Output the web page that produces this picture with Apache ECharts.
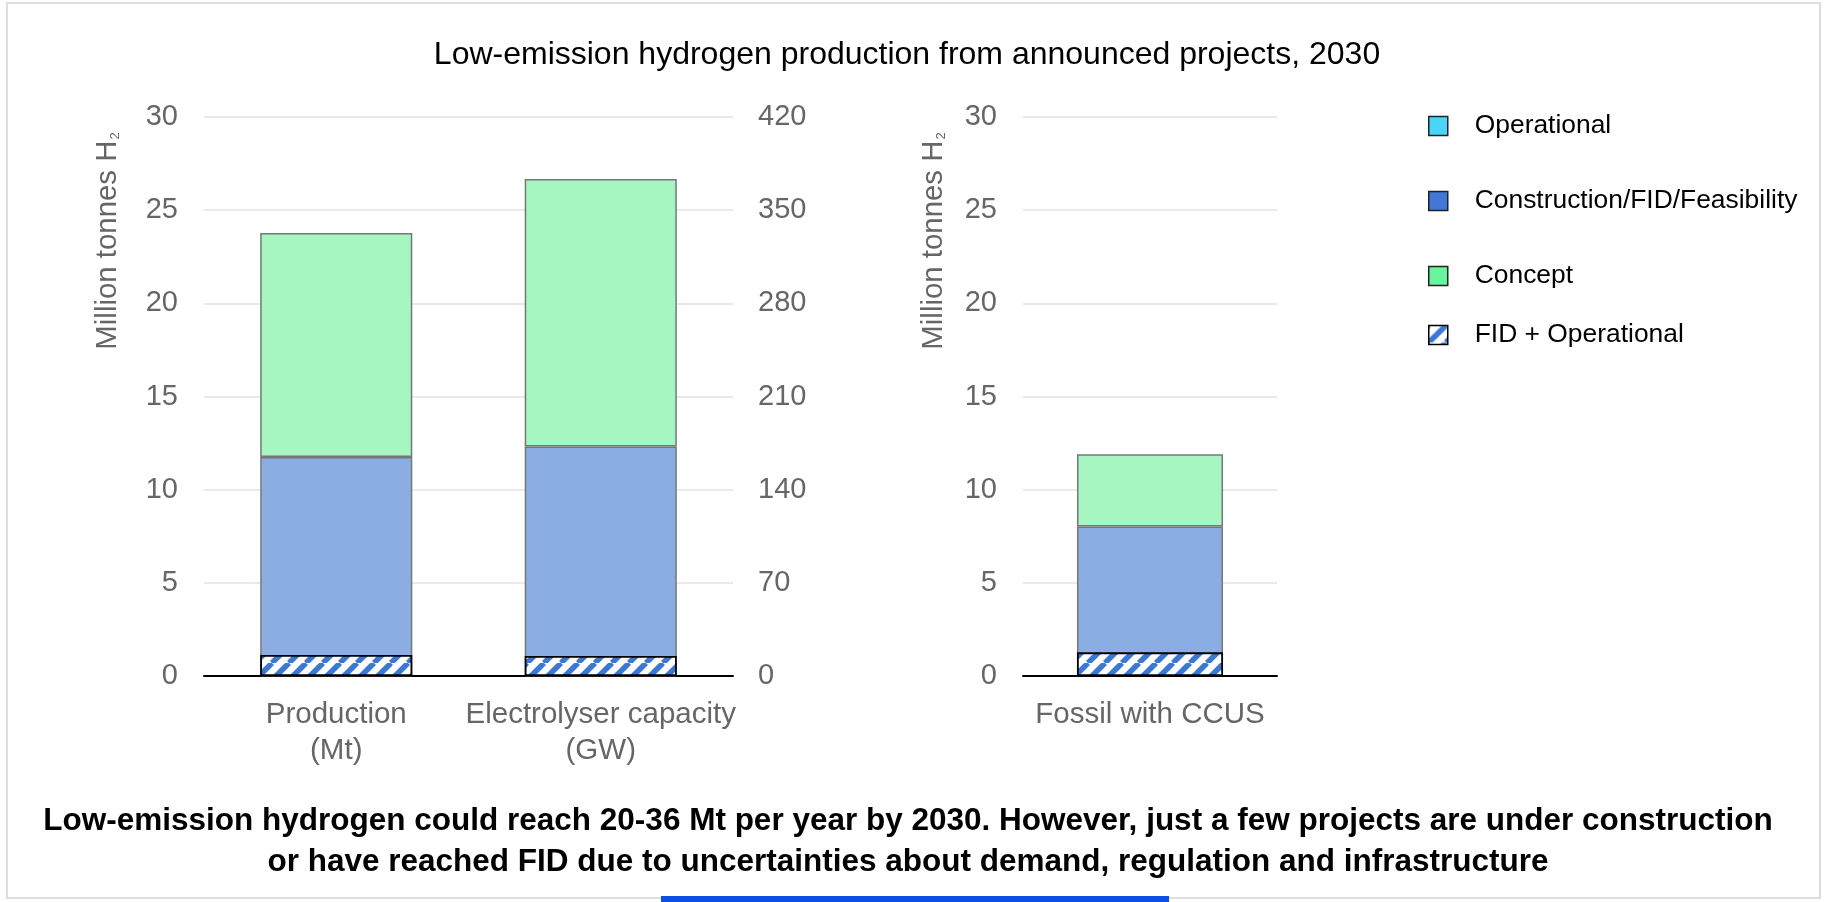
<!DOCTYPE html>
<html>
<head>
<meta charset="utf-8">
<title>Low-emission hydrogen production from announced projects, 2030</title>
<script src="https://cdn.jsdelivr.net/npm/echarts@6/dist/echarts.min.js"></script>
<style>
  html, body { margin: 0; padding: 0; background: #fff; }
  #chart { width: 1827px; height: 902px; }
</style>
</head>
<body>
<div id="chart"></div>
<script>
// Categories of the two panels
const electrolysisCategories = ['Production\n(Mt)', 'Electrolyser capacity\n(GW)'];
const fossilCategories = ['Fossil with CCUS'];

// Stacked values per bar: [Production (Mt), Electrolyser capacity (GW), Fossil with CCUS (Mt)]
const operational = [0.05, 0.7, 0.6];
const construction = [11.70, 171.7, 7.42];
const concept = [12.03, 201.0, 3.88];
// Hatched overlay: FID + Operational
const fidOperational = [1.13, 15.0, 1.27];

// Axis ticks
const mtTicks = { min: 0, max: 30, interval: 5 };
const gwTicks = { min: 0, max: 420, interval: 70 };

const seriesNames = ['Operational', 'Construction/FID/Feasibility', 'Concept', 'FID + Operational'];

const FONT = '"Liberation Sans", Arial, sans-serif';
const GREY_TEXT = '#666666';

// Diagonal hatch used for the FID + Operational overlay
function makeHatch() {
  const p = 17;
  const c = document.createElement('canvas');
  c.width = p; c.height = p;
  const ctx = c.getContext('2d');
  ctx.fillStyle = '#ffffff';
  ctx.fillRect(0, 0, p, p);
  ctx.strokeStyle = '#3a78d8';
  ctx.lineWidth = 5.5;
  for (const k of [-p, 0, p]) {
    ctx.beginPath();
    ctx.moveTo(k, p);
    ctx.lineTo(k + p, 0);
    ctx.stroke();
  }
  return c;
}
const hatch = { image: makeHatch(), repeat: 'repeat' };

const barColors = ['#92e5fa', '#8aaee3', '#a6f6c2'];
const legendColors = ['#48d5f8', '#3f78d6', '#66f59a'];
const stackValues = [operational, construction, concept];

const BAR_W = '57.5%';

function stackedSeries(xi, yi, stack, pick, len) {
  return stackValues.map((vals, s) => ({
    name: seriesNames[s],
    type: 'bar',
    xAxisIndex: xi,
    yAxisIndex: yi,
    stack: stack,
    barWidth: BAR_W,
    barGap: '-100%',
    itemStyle: { color: barColors[s], borderColor: '#777777', borderWidth: 1.5 },
    data: Array.from({ length: len }, (_, i) => (i === pick.slot ? vals[pick.src] : '-'))
  }));
}

function hatchSeries(xi, yi, pick, len) {
  return {
    name: seriesNames[3],
    type: 'bar',
    xAxisIndex: xi,
    yAxisIndex: yi,
    barWidth: BAR_W,
    barGap: '-100%',
    z: 5,
    itemStyle: { color: hatch, borderColor: '#000000', borderWidth: 1.8 },
    data: Array.from({ length: len }, (_, i) => (i === pick.slot ? fidOperational[pick.src] : '-'))
  };
}

const series = [
  ...stackedSeries(0, 0, 'mt', { slot: 0, src: 0 }, 2),
  ...stackedSeries(0, 1, 'gw', { slot: 1, src: 1 }, 2),
  ...stackedSeries(1, 2, 'ccus', { slot: 0, src: 2 }, 1),
  hatchSeries(0, 0, { slot: 0, src: 0 }, 2),
  hatchSeries(0, 1, { slot: 1, src: 1 }, 2),
  hatchSeries(1, 2, { slot: 0, src: 2 }, 1)
];

const categoryAxis = (gridIndex, data) => ({
  type: 'category',
  gridIndex: gridIndex,
  data: data,
  axisTick: { show: false },
  axisLine: { show: true, lineStyle: { color: '#000000', width: 2 } },
  axisLabel: {
    fontFamily: FONT, fontSize: 29.5, color: GREY_TEXT, lineHeight: 36, margin: 20.5, interval: 0
  }
});

const valueAxis = (gridIndex, ticks, position, showSplit, margin) => ({
  type: 'value',
  gridIndex: gridIndex,
  position: position,
  min: ticks.min, max: ticks.max, interval: ticks.interval,
  axisLine: { show: false },
  axisTick: { show: false },
  axisLabel: { fontFamily: FONT, fontSize: 29, color: GREY_TEXT, margin: margin },
  splitLine: { show: showSplit, lineStyle: { color: '#e3e3e3', width: 1.5 } }
});

const axisNameText = (x) => ({
  type: 'text',
  x: x, y: 241,
  rotation: Math.PI / 2,
  style: {
    text: '{a|Million tonnes H}{b|2}',
    align: 'center',
    verticalAlign: 'middle',
    rich: {
      a: { fontFamily: FONT, fontSize: 29.4, fill: GREY_TEXT },
      b: { fontFamily: FONT, fontSize: 13, fill: GREY_TEXT, verticalAlign: 'bottom', padding: [10, 0, 0, 1] }
    }
  }
});

const legendText = { fontFamily: FONT, fontSize: 26.4, color: '#000000', lineHeight: 30, padding: [0, 0, 0, 22] };

const option = {
  animation: false,
  backgroundColor: '#ffffff',
  title: [
    {
      text: 'Low-emission hydrogen production from announced projects, 2030',
      left: 902, top: 34, textAlign: 'center',
      textStyle: { fontFamily: FONT, fontSize: 32, fontWeight: 'normal', color: '#000000' }
    },
    {
      text: 'Low-emission hydrogen could reach 20-36 Mt per year by 2030. However, just a few projects are under construction\nor have reached FID due to uncertainties about demand, regulation and infrastructure',
      left: 903, top: 796, textAlign: 'center',
      textStyle: { fontFamily: FONT, fontSize: 31.5, fontWeight: 'bold', color: '#000000', lineHeight: 41 }
    }
  ],
  legend: [
    {
      orient: 'vertical', left: 1423, top: 106, itemGap: 45,
      itemWidth: 19, itemHeight: 19, icon: 'rect',
      selectedMode: false,
      textStyle: legendText,
      data: seriesNames.slice(0, 3).map((n, i) => ({
        name: n,
        itemStyle: { color: legendColors[i], borderColor: '#222222', borderWidth: 1.5 }
      }))
    },
    {
      orient: 'vertical', left: 1423, top: 315,
      itemWidth: 19, itemHeight: 19, icon: 'rect',
      selectedMode: false,
      textStyle: legendText,
      data: [{ name: seriesNames[3], itemStyle: { color: hatch, borderColor: '#000000', borderWidth: 1.5 } }]
    }
  ],
  grid: [
    { left: 204, top: 117, width: 529, height: 559 },
    { left: 1023, top: 117, width: 254, height: 559 }
  ],
  xAxis: [
    categoryAxis(0, electrolysisCategories),
    categoryAxis(1, fossilCategories)
  ],
  yAxis: [
    valueAxis(0, mtTicks, 'left', true, 26),
    valueAxis(0, gwTicks, 'right', false, 25),
    valueAxis(1, mtTicks, 'left', true, 26)
  ],
  series: series,
  graphic: [
    axisNameText(107.5),
    axisNameText(933.5),
    {
      type: 'rect', silent: true, z: -1,
      shape: { x: 7, y: 3, width: 1813, height: 895 },
      style: { fill: 'none', stroke: '#dddddd', lineWidth: 2 }
    },
    {
      type: 'rect', silent: true,
      shape: { x: 661, y: 896, width: 508, height: 6 },
      style: { fill: '#0a50e6' }
    }
  ]
};

const chart = echarts.init(document.getElementById('chart'), null, { renderer: 'canvas' });
chart.setOption(option);
</script>
</body>
</html>
